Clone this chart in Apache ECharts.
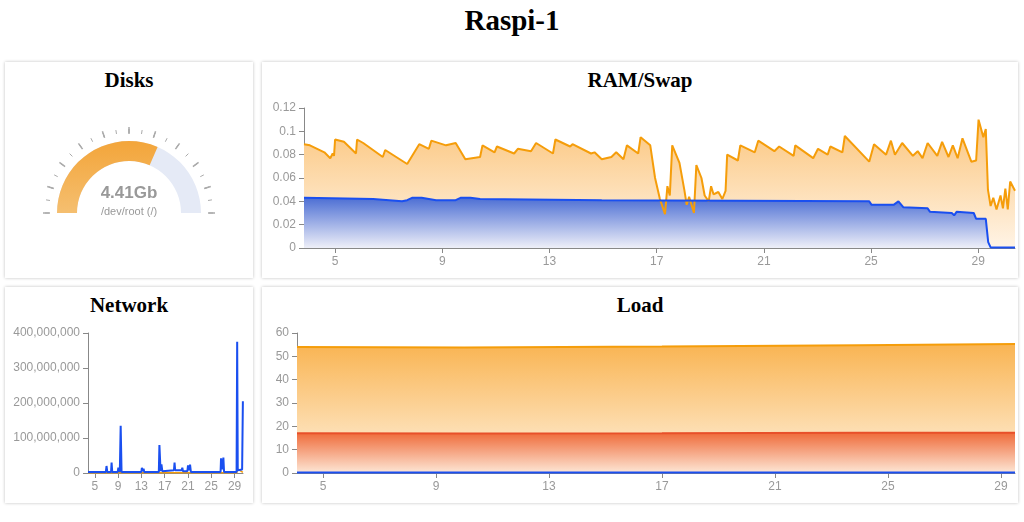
<!DOCTYPE html>
<html>
<head>
<meta charset="utf-8">
<script src="https://cdn.jsdelivr.net/npm/echarts@6/dist/echarts.min.js"></script>
<style>
  body { margin:0; width:1024px; height:522px; background:#fff; font-family:"Liberation Serif",serif; position:relative; overflow:hidden; }
  h1 { position:absolute; left:0; width:1024px; top:4px; margin:0; text-align:center; font-size:29px; font-weight:bold; }
  .panel { position:absolute; background:#fff; box-shadow:0 0 3px rgba(0,0,0,0.25); }
  .panel h2 { position:absolute; left:0; right:0; top:6px; margin:0; text-align:center; font-size:21px; font-weight:bold; }
  .chart { position:absolute; left:0; top:0; width:100%; height:100%; }
</style>
</head>
<body>
<h1>Raspi-1</h1>
<div class="panel" style="left:5px;top:62px;width:248px;height:216px"><h2>Disks</h2><div class="chart" id="disks"></div></div>
<div class="panel" style="left:262px;top:62px;width:756px;height:216px"><h2>RAM/Swap</h2><div class="chart" id="ram"></div></div>
<div class="panel" style="left:5px;top:287px;width:248px;height:216px"><h2>Network</h2><div class="chart" id="net"></div></div>
<div class="panel" style="left:262px;top:287px;width:756px;height:216px"><h2>Load</h2><div class="chart" id="load"></div></div>
<script>
// day labels shown on the x axes
const dayTicks = [5, 9, 13, 17, 21, 25, 29];

// disk usage
const diskUsedPct = 63;
const diskLabel = '4.41Gb';
const diskName = '/dev/root (/)';

// RAM (orange) and swap (blue)
const ramDays = [3.84,4.06,4.60,4.82,4.91,4.96,5.00,5.33,5.78,5.82,6.05,6.78,6.87,7.69,8.14,8.50,8.59,9.14,9.50,9.86,10.41,10.50,10.95,11.04,11.68,11.82,12.31,12.50,13.13,13.22,13.77,13.86,14.55,14.68,14.95,15.31,15.49,15.76,15.89,16.31,16.40,16.76,16.94,17.12,17.31,17.40,17.49,17.58,17.85,18.03,18.12,18.21,18.39,18.48,18.67,18.79,18.94,19.03,19.12,19.30,19.45,19.57,19.63,20.03,20.12,20.66,20.79,21.39,21.57,22.11,22.17,22.84,23.02,23.38,23.48,23.93,24.02,24.93,25.11,25.56,25.74,25.89,26.16,26.56,26.74,26.92,27.11,27.47,27.65,27.89,28.05,28.23,28.41,28.74,28.92,29.01,29.19,29.28,29.36,29.46,29.56,29.68,29.83,29.92,30.01,30.10,30.19,30.37];
const ramUsed = [.089,.088,.082,.077,.081,.079,.093,.091,.081,.093,.090,.078,.084,.072,.089,.085,.092,.088,.090,.076,.078,.088,.082,.087,.081,.085,.083,.090,.081,.093,.087,.089,.081,.082,.076,.078,.082,.076,.088,.081,.095,.088,.060,.042,.029,.053,.045,.088,.073,.050,.037,.044,.030,.071,.060,.045,.040,.053,.046,.048,.042,.049,.080,.075,.088,.082,.092,.083,.087,.079,.088,.077,.085,.080,.087,.082,.096,.074,.089,.080,.092,.080,.090,.079,.083,.077,.090,.079,.091,.078,.088,.077,.094,.074,.075,.110,.095,.102,.050,.036,.043,.033,.045,.034,.051,.033,.057,.049];
const swapDays = [3.84,6.42,7.50,7.69,7.87,8.23,8.77,9.50,9.68,10.05,10.41,14.95,24.93,25.02,25.84,26.02,26.20,27.11,27.20,28.01,28.10,28.19,28.83,28.92,29.28,29.37,29.46,30.37];
const swapUsed = [.043,.042,.040,.041,.043,.043,.041,.041,.043,.043,.042,.041,.040,.037,.037,.040,.035,.034,.031,.030,.028,.031,.030,.025,.025,.005,.0005,.0005];

// network bytes
const netDays = [3.84,4.9,5.0,5.1,6.9,7.02,7.15,7.8,7.89,8.0,8.95,9.05,9.3,9.45,9.6,13.0,13.09,13.25,13.38,13.5,16.0,16.10,16.3,16.45,16.6,18.6,18.70,18.8,19.9,20.03,20.15,20.9,21.01,21.2,21.36,21.5,26.6,26.68,26.9,27.08,27.2,29.35,29.45,29.55,29.68,30.3,30.43];
const netBytes = [3e6,3e6,8e6,3e6,3e6,20e6,3e6,3e6,30e6,3e6,3e6,15e6,3e6,135e6,3e6,3e6,15e6,5e6,12e6,3e6,3e6,80e6,5e6,25e6,5e6,8e6,30e6,8e6,8e6,15e6,5e6,5e6,22e6,8e6,24e6,3e6,3e6,42e6,10e6,44e6,3e6,3e6,375e6,8e6,10e6,10e6,205e6];
const netOutDays = [3.84, 29.4, 29.5, 30.43];
const netOut = [1e6, 1e6, 12e6, 2e6];

// load averages
const loadDays = [4.08, 10, 17, 24, 29.5];
const loadHigh = [54, 53.8, 54.2, 54.8, 55.3];
const loadMid = [17, 16.9, 17.0, 17.2, 17.3];
const loadLow = [0.2, 0.2, 0.2, 0.2, 0.2];

const zip = (a, b) => a.map((x, i) => [x, b[i]]);
const grad = (c0, c1) => new echarts.graphic.LinearGradient(0, 0, 0, 1, [{offset: 0, color: c0}, {offset: 1, color: c1}]);
const labelStyle = {color: '#999', fontSize: 12, fontFamily: 'Liberation Sans'};

function xAxis(min, max) {
  return {
    type: 'value', min: min, max: max,
    axisLine: {lineStyle: {color: '#888'}},
    axisTick: {show: true, customValues: dayTicks, lineStyle: {color: '#888'}},
    axisLabel: Object.assign({customValues: dayTicks}, labelStyle),
    splitLine: {show: false}
  };
}
function yAxis(max, interval, fmt) {
  return {
    type: 'value', min: 0, max: max, interval: interval,
    axisLine: {show: true, lineStyle: {color: '#888'}},
    axisTick: {show: true, lineStyle: {color: '#888'}},
    axisLabel: Object.assign({formatter: fmt}, labelStyle),
    splitLine: {show: false}
  };
}
function area(data, color, c0, c1) {
  return {type: 'line', data: data, symbol: 'none', lineStyle: {color: color, width: 2}, itemStyle: {color: color}, areaStyle: {color: grad(c0, c1), opacity: 1}};
}

echarts.init(document.getElementById('disks')).setOption({
  series: [{
    type: 'gauge', center: [124, 151], radius: 72, startAngle: 180, endAngle: 0, min: 0, max: 100,
    progress: {show: true, width: 20, itemStyle: {color: grad('#f3a53a', '#f5bf70')}},
    axisLine: {lineStyle: {width: 20, color: [[1, '#e5eaf6']]}},
    pointer: {show: false},
    axisTick: {distance: -32, length: 4, splitNumber: 2, lineStyle: {color: '#aaa', width: 1}},
    splitLine: {distance: -34, length: 7, lineStyle: {color: '#aaa', width: 1.5}},
    axisLabel: {show: false},
    title: {offsetCenter: [0, '-2%'], color: '#999', fontSize: 11, fontFamily: 'Liberation Sans'},
    detail: {offsetCenter: [0, '-28%'], color: '#999', fontSize: 17, fontWeight: 'bold', fontFamily: 'Liberation Sans', formatter: () => diskLabel},
    data: [{value: diskUsedPct, name: diskName}]
  }]
});

echarts.init(document.getElementById('ram')).setOption({
  animation: false,
  grid: {left: 42, top: 46, right: 3, bottom: 30},
  xAxis: xAxis(3.84, 30.37),
  yAxis: yAxis(0.12, 0.02, v => String(v).replace(/^0\./, v === 0 ? '0.' : '0.')),
  series: [
    area(zip(ramDays, ramUsed), '#f59d0a', '#fbc57c', '#fff4e6'),
    area(zip(swapDays, swapUsed), '#1a4ff0', '#4d6fd4', '#eeeff8')
  ]
});

echarts.init(document.getElementById('net')).setOption({
  animation: false,
  grid: {left: 83, top: 46, right: 10, bottom: 30},
  xAxis: xAxis(3.84, 30.45),
  yAxis: yAxis(400e6, 100e6, v => v.toLocaleString('en-US')),
  series: [
    {type: 'line', data: zip(netOutDays, netOut), symbol: 'none', lineStyle: {color: '#f59d0a', width: 1.5}},
    {type: 'line', data: zip(netDays, netBytes), symbol: 'none', lineStyle: {color: '#1a4ff0', width: 2}}
  ]
});

echarts.init(document.getElementById('load')).setOption({
  animation: false,
  grid: {left: 35, top: 46, right: 3, bottom: 30},
  xAxis: xAxis(4.08, 29.5),
  yAxis: yAxis(60, 10, v => v),
  series: [
    area(zip(loadDays, loadHigh), '#f59d0a', '#f9b452', '#fff2e0'),
    area(zip(loadDays, loadMid), '#e8502a', '#ef6b3a', '#fde7d6'),
    {type: 'line', data: zip(loadDays, loadLow), symbol: 'none', lineStyle: {color: '#1a4ff0', width: 2}}
  ]
});
</script>
</body>
</html>
